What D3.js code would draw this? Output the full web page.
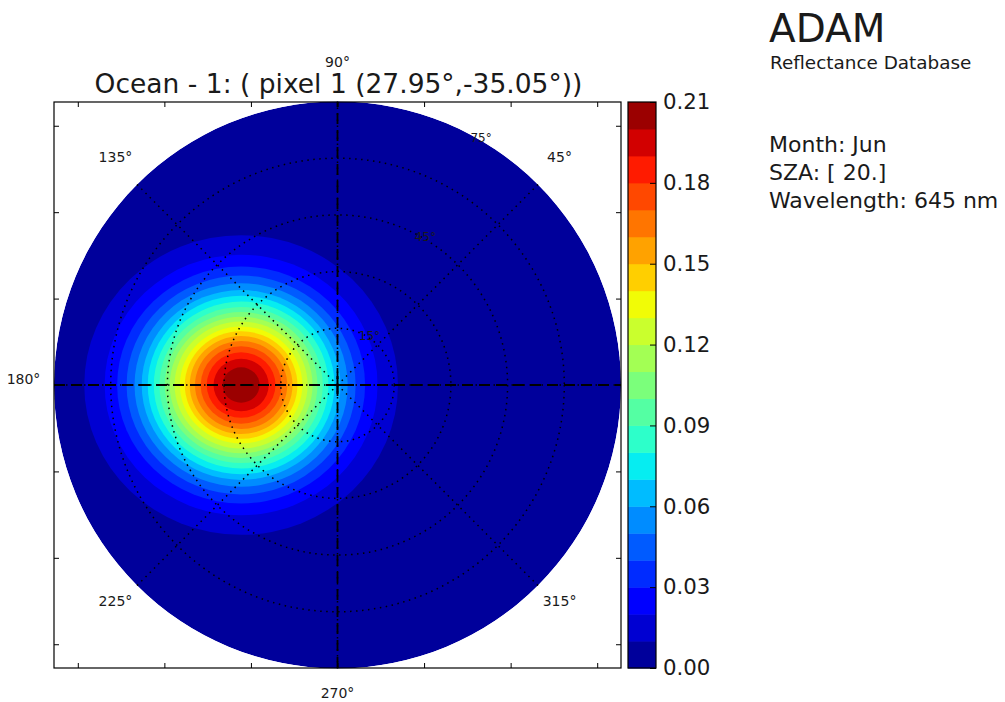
<!DOCTYPE html>
<html>
<head>
<meta charset="utf-8">
<script src="https://cdn.jsdelivr.net/npm/d3@7"></script>
<style>
  html, body { margin: 0; padding: 0; background: #fff; }
  text { font-family: "DejaVu Sans", sans-serif; fill: #1a1a1a; }
</style>
</head>
<body>
<svg id="chart" width="1005" height="702"></svg>
<script>
// ---- data ----------------------------------------------------------------
const title = "Ocean - 1: ( pixel 1 (27.95°,-35.05°))";
const infoLines = ["Month: Jun", "SZA: [ 20.]", "Wavelength: 645 nm"];

// contour levels of the reflectance field
const levels = [0.00, 0.01, 0.02, 0.03, 0.04, 0.05, 0.06, 0.07, 0.08, 0.09, 0.10,
                0.11, 0.12, 0.13, 0.14, 0.15, 0.16, 0.17, 0.18, 0.19, 0.20, 0.21];
// reflectance peak position (view zenith, azimuth in degrees)
const peakVza = 25.5;
const peakAz = 180;
// angular distance (deg) from the peak at which each level is reached
const ringLevels = [0.01, 0.02, 0.03, 0.04, 0.05, 0.06, 0.07, 0.08, 0.09, 0.10,
                    0.11, 0.12, 0.13, 0.14, 0.15, 0.16, 0.17, 0.18, 0.19, 0.20];
const ringRadius = [41.5, 36.1, 32.8, 30.3, 28.2, 26.3, 24.7, 23.1, 21.6, 20.2,
                    18.9, 17.6, 16.2, 14.9, 13.6, 12.2, 10.7, 9.1, 7.3, 4.9];
const ringAspect = 0.955;   // vertical / horizontal extent of the rings

const vzaMax = 75;
const radialGrid = [15, 30, 45, 60, 75];
const radialLabels = [15, 45, 75];
const radialLabelAngle = 60.5;
const thetaGrid = [0, 45, 90, 135, 180, 225, 270, 315];
const thetaLabels = [45, 90, 135, 180, 225, 270, 315];
const frameTicks = [-60, -40, -20, 0, 20, 40, 60];
const colorbarTicks = [0.00, 0.03, 0.06, 0.09, 0.12, 0.15, 0.18, 0.21];

// ---- matplotlib "jet" colormap -------------------------------------------
const jetSeg = {
  r: [[0, 0], [0.35, 0], [0.66, 1], [0.89, 1], [1, 0.5]],
  g: [[0, 0], [0.125, 0], [0.375, 1], [0.64, 1], [0.91, 0], [1, 0]],
  b: [[0, 0.5], [0.11, 1], [0.34, 1], [0.65, 0], [1, 0]]
};
function segVal(pts, t) {
  for (let i = 1; i < pts.length; i++) {
    if (t <= pts[i][0]) {
      const [x0, y0] = pts[i - 1], [x1, y1] = pts[i];
      return y0 + (y1 - y0) * (t - x0) / (x1 - x0);
    }
  }
  return pts[pts.length - 1][1];
}
function jet(t) {
  return d3.rgb(segVal(jetSeg.r, t) * 255, segVal(jetSeg.g, t) * 255, segVal(jetSeg.b, t) * 255).formatHex();
}
const nBands = levels.length - 1;
// each filled band takes the colour of its mid value, normalised over the level range
const norm = d3.scaleLinear().domain([levels[0], levels[nBands]]).range([0, 1]);
const bandColor = v => jet(norm(v));
const bandMid = i => (levels[i] + levels[i + 1]) / 2;

// ---- layout ---------------------------------------------------------------
const svg = d3.select("#chart");
const frame = { left: 54, right: 621, top: 102, bottom: 668 };
const cx = (frame.left + frame.right) / 2;
const cy = (frame.top + frame.bottom) / 2;

const x = d3.scaleLinear().domain([-65.5, 65.5]).range([frame.left, frame.right]);
const y = d3.scaleLinear().domain([-65.5, 65.5]).range([frame.bottom, frame.top]);
const r = d3.scaleLinear().domain([0, vzaMax]).range([0, (frame.right - frame.left) / 2]);
const polar = (vza, az) => [cx + r(vza) * Math.cos(az * Math.PI / 180),
                            cy - r(vza) * Math.sin(az * Math.PI / 180)];

// ---- filled reflectance field --------------------------------------------
svg.append("clipPath").attr("id", "disk")
  .append("circle").attr("cx", cx).attr("cy", cy).attr("r", r(vzaMax));

const field = svg.append("g").attr("clip-path", "url(#disk)");
field.append("circle")
  .attr("cx", cx).attr("cy", cy).attr("r", r(vzaMax))
  .attr("fill", bandColor(bandMid(0)));

const [px, py] = polar(peakVza, peakAz);
field.selectAll("ellipse.band")
  .data(ringLevels.map((lv, i) => ({ band: levels.indexOf(lv), rad: ringRadius[i] })))
  .join("ellipse")
  .attr("class", "band")
  .attr("cx", px).attr("cy", py)
  .attr("rx", d => r(d.rad))
  .attr("ry", d => r(d.rad) * ringAspect)
  .attr("fill", d => bandColor(bandMid(d.band)));

// ---- polar grid (dotted) -------------------------------------------------
const grid = svg.append("g").attr("fill", "none").attr("stroke", "#000")
  .attr("stroke-width", 1.5).attr("stroke-dasharray", "1.5,4.5");
grid.selectAll("circle").data(radialGrid.slice(0, -1)).join("circle")
  .attr("cx", cx).attr("cy", cy).attr("r", d => r(d));
grid.selectAll("line").data(thetaGrid).join("line")
  .attr("x1", cx).attr("y1", cy)
  .attr("x2", d => polar(vzaMax, d)[0]).attr("y2", d => polar(vzaMax, d)[1]);

// dashed principal axes
const dashed = svg.append("g").attr("stroke", "#000").attr("stroke-width", 1.8)
  .attr("stroke-dasharray", "11,6");
dashed.append("line").attr("x1", x(-65.5)).attr("x2", x(65.5)).attr("y1", y(0)).attr("y2", y(0));
dashed.append("line").attr("x1", x(0)).attr("x2", x(0)).attr("y1", y(-65.5)).attr("y2", y(65.5));

// centre marker
svg.append("path")
  .attr("d", `M${x(0) - 9},${y(0)}H${x(0) + 9}M${x(0)},${y(0) - 9}V${y(0) + 9}`)
  .attr("stroke", "#000").attr("stroke-width", 2);

// radial labels
svg.append("g").selectAll("text").data(radialLabels).join("text")
  .attr("x", d => polar(d, radialLabelAngle)[0] + 4)
  .attr("y", d => polar(d, radialLabelAngle)[1])
  .attr("text-anchor", "middle").attr("dominant-baseline", "central")
  .attr("font-size", 12)
  .text(d => d + "°");

// ---- axes frame with inward ticks ----------------------------------------
const noLabel = () => "";
svg.append("g").attr("transform", `translate(0,${frame.bottom})`)
  .call(d3.axisBottom(x).tickValues(frameTicks).tickSize(-5).tickFormat(noLabel));
svg.append("g").attr("transform", `translate(0,${frame.top})`)
  .call(d3.axisTop(x).tickValues(frameTicks).tickSize(-5).tickFormat(noLabel));
svg.append("g").attr("transform", `translate(${frame.left},0)`)
  .call(d3.axisLeft(y).tickValues(frameTicks).tickSize(-5).tickFormat(noLabel));
svg.append("g").attr("transform", `translate(${frame.right},0)`)
  .call(d3.axisRight(y).tickValues(frameTicks).tickSize(-5).tickFormat(noLabel));
svg.selectAll(".domain").remove();
svg.selectAll(".tick line").attr("stroke", "#000").attr("stroke-width", 1);
svg.append("rect")
  .attr("x", frame.left).attr("y", frame.top)
  .attr("width", frame.right - frame.left).attr("height", frame.bottom - frame.top)
  .attr("fill", "none").attr("stroke", "#000").attr("stroke-width", 1.2);

// azimuth labels (the 90° one sits just above the title line)
svg.append("g").selectAll("text").data(thetaLabels).join("text")
  .attr("x", d => cx + 314 * Math.cos(d * Math.PI / 180))
  .attr("y", d => cy - 314 * Math.sin(d * Math.PI / 180) - (d === 90 ? 9 : 6))
  .attr("text-anchor", "middle").attr("dominant-baseline", "central")
  .attr("font-size", 14)
  .text(d => d + "°");

// title
svg.append("text").attr("x", cx + 1).attr("y", 93)
  .attr("text-anchor", "middle").attr("font-size", 26.5)
  .text(title);

// ---- colorbar -------------------------------------------------------------
const cb = { left: 628, right: 656, top: frame.top, bottom: frame.bottom };
const cbY = d3.scaleLinear().domain([levels[0], levels[nBands]]).range([cb.bottom, cb.top]);
svg.append("g").selectAll("rect").data(d3.range(nBands)).join("rect")
  .attr("x", cb.left).attr("width", cb.right - cb.left)
  .attr("y", i => cbY(levels[i + 1]))
  .attr("height", i => cbY(levels[i]) - cbY(levels[i + 1]) + 0.5)
  .attr("fill", i => bandColor(bandMid(i)));
svg.append("rect")
  .attr("x", cb.left).attr("y", cb.top)
  .attr("width", cb.right - cb.left).attr("height", cb.bottom - cb.top)
  .attr("fill", "none").attr("stroke", "#000").attr("stroke-width", 1.2);
const cbAxis = svg.append("g").attr("transform", `translate(${cb.right},0)`)
  .call(d3.axisRight(cbY).tickValues(colorbarTicks).tickSize(-6).tickPadding(7)
    .tickFormat(d3.format(".2f")));
cbAxis.select(".domain").remove();
cbAxis.selectAll(".tick line").attr("stroke", "#000");
cbAxis.selectAll(".tick text").attr("font-size", 21.3)
  .attr("font-family", "DejaVu Sans").attr("fill", "#1a1a1a");

// ---- side text ------------------------------------------------------------
svg.append("text").attr("x", 769).attr("y", 42).attr("font-size", 39).text("ADAM");
svg.append("text").attr("x", 770).attr("y", 69).attr("font-size", 18.4).text("Reflectance Database");
svg.append("g").selectAll("text").data(infoLines).join("text")
  .attr("x", 769).attr("y", (d, i) => 152 + i * 28)
  .attr("font-size", 22)
  .text(d => d);
</script>
</body>
</html>
